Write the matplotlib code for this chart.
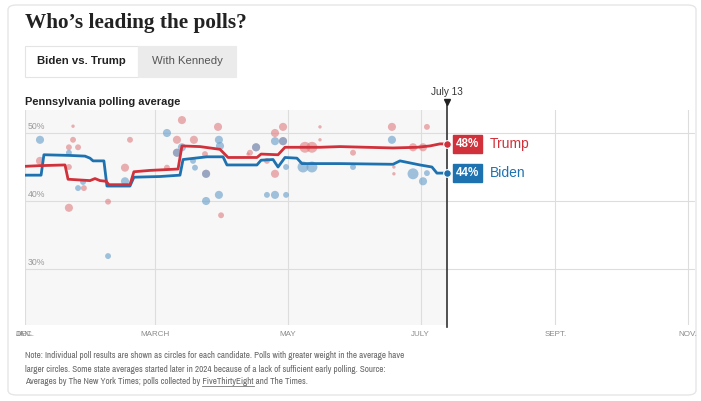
import matplotlib
matplotlib.use("Agg")
import matplotlib.pyplot as plt
from matplotlib.patches import FancyBboxPatch, Rectangle
from matplotlib import font_manager as fm
import numpy as np

# ---------------- data ----------------
# x = days since Jan 1, 2024
tick_days = [0, 60, 121, 182, 244, 305]
tick_labels = ["JAN.", "MARCH", "MAY", "JULY", "SEPT.", "NOV."]
y_ticks = [30, 40, 50]
y_labels = ["30%", "40%", "50%"]
marker_day = 194
marker_label = "July 13"

trump_avg_day = [0, 6.9, 18.4, 19.8, 29.9, 32.2, 34.5, 37.3, 38.6, 48.3, 50.1, 57.5, 70.4,
                 72.2, 80.5, 89.7, 93.4, 106.7, 108.6, 116.4, 119.6, 135.7, 144.9, 169.3,
                 180.3, 186.3, 190.9, 194]
trump_avg = [45.1, 45.2, 45.3, 43.2, 43.0, 43.3, 43.0, 42.9, 42.4, 42.4, 44.3, 44.5, 44.7,
             48.1, 48.0, 47.6, 46.4, 46.4, 46.9, 46.8, 47.9, 47.9, 48.0, 47.8,
             47.9, 48.1, 48.4, 48.4]

biden_avg_day = [0, 7.4, 8.7, 20.7, 27.6, 29.9, 31.3, 36.3, 37.7, 48.3, 50.1, 62.1, 71.3,
                 72.7, 83.7, 91.1, 92.9, 106.7, 108.6, 114.1, 116.4, 119.6, 125.1, 127.4,
                 144.9, 169.3, 172.5, 181.7, 187.2, 189.5, 194]
biden_avg = [43.8, 43.8, 46.8, 46.7, 46.6, 46.3, 45.9, 45.9, 42.2, 42.2, 43.5, 43.6, 43.8,
             46.1, 46.5, 46.5, 45.3, 45.3, 46.0, 46.1, 45.0, 46.4, 46.3, 45.5,
             45.5, 45.4, 45.9, 45.3, 45.0, 44.1, 44.1]

trump_poll_day = [22.1, 22.1, 20.2, 24.4, 6.9, 20.2, 27.1, 48.3, 46.0, 38.2, 20.2, 72.2, 88.8,
                  69.9, 77.7, 69.9, 82.8, 103.5, 65.3, 90.2, 83.3, 106.3, 118.7, 115.0, 118.7,
                  135.7, 135.7, 168.8, 184.9, 128.8, 132.0, 111.3, 115.0, 150.9, 169.7, 169.7,
                  178.5, 183.1, 102.6]
trump_poll_pct = [51.0, 49.0, 47.9, 47.9, 45.9, 45.0, 41.9, 49.0, 44.9, 39.9, 39.0, 51.9, 50.9,
                  49.0, 49.0, 47.1, 46.9, 47.1, 44.9, 37.9, 44.0, 47.9, 50.9, 50.0, 48.8,
                  50.9, 49.0, 50.9, 50.9, 47.9, 47.9, 45.9, 44.0, 47.1, 45.0, 44.0,
                  47.9, 47.9, 46.9]
trump_poll_weight = [1, 2, 2, 2, 3, 2, 2, 2, 3, 2, 3, 3, 3,
                     3, 3, 3, 2, 2, 2, 2, 3, 3, 3, 3, 3,
                     1, 1, 3, 2, 4, 4, 2, 3, 2, 1, 1,
                     3, 3, 1]

biden_poll_day = [6.9, 20.2, 26.7, 24.4, 46.0, 38.2, 65.3, 89.2, 72.2, 89.7, 106.3, 77.3, 78.2,
                  83.3, 83.3, 89.2, 111.3, 115.0, 120.1, 115.0, 118.7, 168.8, 127.9, 132.0,
                  120.1, 150.9, 178.5, 183.1, 184.9, 69.9]
biden_poll_pct = [49.0, 47.1, 42.8, 41.9, 42.9, 31.9, 50.0, 49.0, 47.9, 48.1, 47.9, 45.9, 44.9,
                  44.0, 40.0, 40.9, 40.9, 40.9, 40.9, 48.8, 48.8, 49.0, 45.0, 45.0,
                  45.0, 45.0, 44.0, 42.9, 44.1, 47.1]
biden_poll_weight = [3, 2, 2, 2, 3, 2, 3, 3, 3, 3, 3, 2, 2,
                     3, 3, 3, 2, 3, 2, 3, 3, 3, 4, 4,
                     2, 2, 4, 3, 2, 3]

trump_final = "48%"
biden_final = "44%"

# ---------------- style ----------------
W, H = 701, 401
RED = "#d0313a"
BLUE = "#1f72b0"
RED_DOT = "#df7c80"
BLUE_DOT = "#6fa3cc"

SANS = "Liberation Sans"
SERIF = "Liberation Serif"

# pick a condensed face if one is installed
NARROW = SANS
NARROW_STRETCH = "normal"
for f in fm.fontManager.ttflist:
    if "Narrow" in f.name or "Condensed" in f.name:
        NARROW = f.name
        break
else:
    for f in fm.fontManager.ttflist:
        if f.name == "DejaVu Sans" and str(f.stretch) in ("condensed", "semi-condensed"):
            NARROW = "DejaVu Sans"
            NARROW_STRETCH = "condensed"
            break

fig = plt.figure(figsize=(W / 100, H / 100), dpi=100)
fig.patch.set_facecolor("white")

def fx(px):
    return px / W

def fy(py):
    return 1 - py / H

# card border
card = FancyBboxPatch((fx(8), fy(395)), fx(688), 390 / H,
                      boxstyle="round,pad=0,rounding_size=0.012",
                      transform=fig.transFigure, facecolor="none",
                      edgecolor="#e6e6e6", linewidth=1.0, zorder=-5)
fig.patches.append(card)

# title
fig.text(fx(25), fy(23), "Who\u2019s leading the polls?", fontsize=15.3,
         fontweight="bold", family=SERIF, color="#222222", va="center", ha="left")

# tabs
tab1 = Rectangle((fx(25), fy(77)), fx(113), 31 / H, transform=fig.transFigure,
                 facecolor="white", edgecolor="#e4e4e4", linewidth=0.8, zorder=-4)
tab2 = Rectangle((fx(138), fy(77)), fx(98), 31 / H, transform=fig.transFigure,
                 facecolor="#ebebeb", edgecolor="#ebebeb", linewidth=0.8, zorder=-4)
fig.patches.extend([tab1, tab2])
fig.text(fx(81.5), fy(61), "Biden vs. Trump", fontsize=8.2, fontweight="bold",
         family=SANS, color="#222222", ha="center", va="center")
fig.text(fx(187), fy(61), "With Kennedy", fontsize=8.2, family=SANS,
         color="#555555", ha="center", va="center")

fig.text(fx(25), fy(102), "Pennsylvania polling average", fontsize=7.9,
         fontweight="bold", family=SANS, color="#222222", ha="left", va="center")

# ---------------- axes ----------------
px_per_day = 663 / 305
ax_left, ax_right, ax_top, ax_bot = 25, 695, 110, 325
ax = fig.add_axes([fx(ax_left), fy(ax_bot), (ax_right - ax_left) / W, (ax_bot - ax_top) / H])
ax.set_zorder(2)
ax.patch.set_alpha(0)
ax.set_xlim(0, (ax_right - ax_left) / px_per_day)
ylo = 50 - (ax_bot - 133) / 6.8
yhi = 50 + (133 - ax_top) / 6.8
ax.set_ylim(ylo, yhi)
for s in ax.spines.values():
    s.set_visible(False)
ax.set_xticks([])
ax.set_yticks([])

ax.axvspan(0, marker_day, color="#f7f7f7", zorder=0, lw=0)
for d in tick_days:
    ax.axvline(d, color="#dddddd", lw=0.8, zorder=1)
for v in y_ticks:
    ax.axhline(v, color="#dddddd", lw=0.8, zorder=1)
for v, lab in zip(y_ticks, y_labels):
    ax.text(1.2, v + 0.3, lab, fontsize=6.3, color="#9a9a9a", family=SANS,
            ha="left", va="bottom", zorder=2)

size_map = {1: 6, 2: 18, 3: 34, 4: 62}
ax.scatter(trump_poll_day, trump_poll_pct, s=[size_map[w] for w in trump_poll_weight],
           color=RED_DOT, alpha=0.6, lw=0, zorder=3)
ax.scatter(biden_poll_day, biden_poll_pct, s=[size_map[w] for w in biden_poll_weight],
           color=BLUE_DOT, alpha=0.65, lw=0, zorder=3)

ax.plot(biden_avg_day, biden_avg, color=BLUE, lw=2.0, zorder=4, solid_joinstyle="round")
ax.plot(trump_avg_day, trump_avg, color=RED, lw=2.0, zorder=4, solid_joinstyle="round")

# marker line
ax.plot([marker_day, marker_day], [ylo - 0.3, yhi + 1.2], color="#333333", lw=1.2,
        zorder=5, clip_on=False)
ax.plot([marker_day], [yhi + 1.25], marker="v", color="#222222", ms=4.5, zorder=6,
        clip_on=False)
ax.text(marker_day, yhi + 1.9, marker_label, fontsize=7.2, color="#333333", family=SANS,
        ha="center", va="bottom")

ax.plot([trump_avg_day[-1]], [trump_avg[-1]], "o", color=RED, ms=5.5, mec="white",
        mew=0.8, zorder=6)
ax.plot([biden_avg_day[-1]], [biden_avg[-1]], "o", color=BLUE, ms=5.5, mec="white",
        mew=0.8, zorder=6)

# end labels
for val, lab, name, col in [(trump_avg[-1], trump_final, "Trump", RED),
                            (biden_avg[-1], biden_final, "Biden", BLUE)]:
    ax.annotate(lab, xy=(marker_day, val), xytext=(6.5, 0),
                textcoords="offset points", fontsize=8.4, fontweight="bold",
                color="white", family=SANS, ha="left", va="center", zorder=7,
                annotation_clip=False,
                bbox=dict(boxstyle="square,pad=0.25", fc=col, ec=col))
    ax.annotate(name, xy=(marker_day, val), xytext=(31, 0),
                textcoords="offset points", fontsize=10, color=col,
                family=SANS, ha="left", va="center", zorder=7, annotation_clip=False)

# x tick labels
for d, lab in zip(tick_days, tick_labels):
    fig.text(fx(25 + d * px_per_day), fy(334), lab, fontsize=5.8, color="#8a8a8a",
             family=SANS, ha="center", va="center")
fig.text(fx(25), fy(334), "DEC.", fontsize=5.8, color="#8a8a8a", family=SANS,
         ha="center", va="center")

# note
note_lines = [
    "Note: Individual poll results are shown as circles for each candidate. Polls with greater weight in the average have",
    "larger circles. Some state averages started later in 2024 because of a lack of sufficient early polling. Source:",
    "Averages by The New York Times; polls collected by FiveThirtyEight and The Times.",
]
note_y = [356, 369, 382]

# fit size so first note line spans ~380 px
fig.canvas.draw()
r = fig.canvas.get_renderer()
probe = fig.text(0, 0, note_lines[0], fontsize=10, family=NARROW, fontstretch=NARROW_STRETCH)
wprobe = probe.get_window_extent(r).width
probe.remove()
note_fs = 10 * 380 / wprobe

for line, yy in zip(note_lines, note_y):
    fig.text(fx(25), fy(yy), line, fontsize=note_fs, color="#666666", family=NARROW,
             fontstretch=NARROW_STRETCH, ha="left", va="center")

# underline FiveThirtyEight
pre = fig.text(0, 0, "Averages by The New York Times; polls collected by ",
               fontsize=note_fs, family=NARROW, fontstretch=NARROW_STRETCH)
word = fig.text(0, 0, "FiveThirtyEight", fontsize=note_fs, family=NARROW,
                fontstretch=NARROW_STRETCH)
b1 = pre.get_window_extent(r)
b2 = word.get_window_extent(r)
pre.remove()
word.remove()
x0 = 25 + b1.width
x1 = x0 + b2.width
fig.add_artist(plt.Line2D([fx(x0), fx(x1)], [fy(386), fy(386)], color="#777777",
                          lw=0.6, transform=fig.transFigure))

fig.savefig("out.png", dpi=100, facecolor="white")
